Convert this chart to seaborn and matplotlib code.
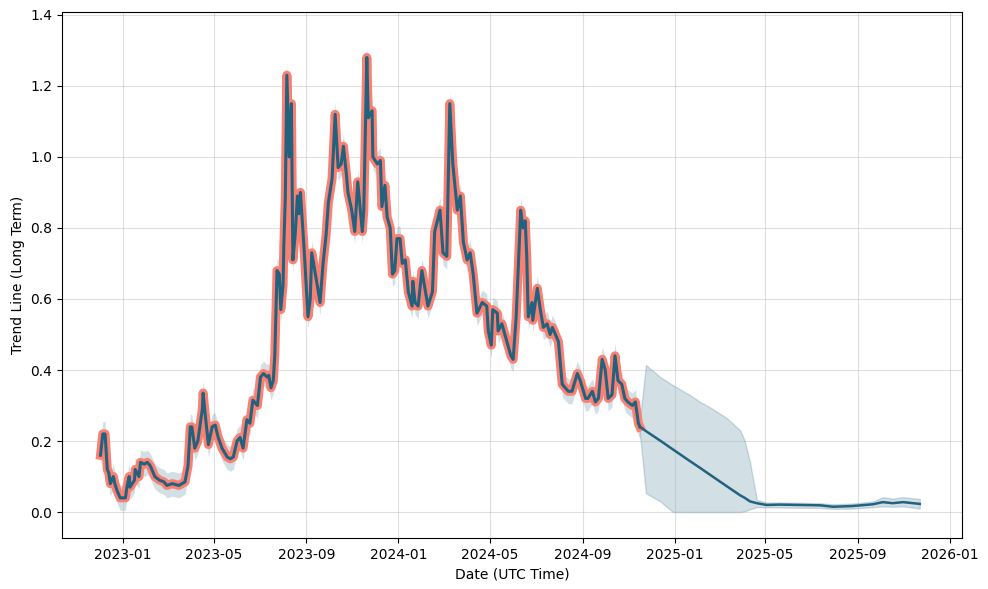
import numpy as np
import pandas as pd
import matplotlib
matplotlib.use("Agg")
import matplotlib.pyplot as plt
import matplotlib.dates as mdates
import seaborn as sns

BASE_DATE = "2023-01-01"

# historical trend: day offsets from BASE_DATE and values
hist_days = [-30, -27, -24, -21, -19, -17, -13, -11, -8, -4, 3, 5, 8, 9, 15, 16, 21, 23, 28, 32,
             36, 38, 42, 48, 54, 58, 65, 74, 82, 86, 89, 91, 95, 99, 105, 106, 109, 113, 118, 122,
             126, 131, 138, 142, 146, 151, 155, 159, 164, 168, 172, 178, 182, 186, 191, 193, 196, 199, 201, 204,
             207, 209, 212, 213, 215, 217, 220, 223, 225, 228, 231, 233, 235, 239, 241, 245, 248, 250, 254, 258,
             261, 265, 269, 272, 277, 281, 285, 289, 292, 296, 298, 303, 307, 311, 317, 319, 323, 325, 330, 331,
             337, 341, 343, 347, 350, 354, 357, 360, 363, 367, 370, 374, 378, 383, 384, 387, 391, 396, 400, 404,
             410, 413, 420, 424, 429, 433, 437, 443, 447, 451, 456, 460, 464, 469, 476, 482, 484, 488, 490, 496,
             497, 502, 506, 510, 514, 517, 521, 523, 527, 530, 533, 535, 537, 542, 543, 549, 553, 557, 562, 566,
             569, 573, 577, 582, 586, 590, 595, 602, 606, 613, 616, 622, 626, 630, 635, 639, 643, 648, 652, 656,
             661, 665, 669, 675, 679, 683, 685]
hist_vals = [0.16, 0.22, 0.22, 0.12, 0.11, 0.08, 0.10, 0.08, 0.06, 0.04, 0.04, 0.07, 0.10, 0.07, 0.09, 0.12, 0.10, 0.14, 0.135, 0.14,
             0.13, 0.12, 0.10, 0.09, 0.085, 0.075, 0.08, 0.075, 0.085, 0.13, 0.24, 0.24, 0.18, 0.20, 0.29, 0.335, 0.27, 0.19, 0.24, 0.245,
             0.21, 0.18, 0.155, 0.15, 0.155, 0.20, 0.21, 0.18, 0.26, 0.25, 0.315, 0.30, 0.38, 0.39, 0.38, 0.385, 0.35, 0.37, 0.44, 0.68,
             0.67, 0.57, 0.64, 0.75, 0.89, 1.23, 1.00, 1.15, 0.71, 0.78, 0.89, 0.84, 0.90, 0.77, 0.70, 0.55, 0.60, 0.73, 0.68, 0.63,
             0.59, 0.70, 0.78, 0.87, 0.94, 1.12, 0.97, 0.98, 1.03, 0.95, 0.90, 0.85, 0.79, 0.93, 0.79, 0.85, 1.28, 1.11, 1.13, 1.00,
             0.98, 0.99, 0.86, 0.92, 0.83, 0.80, 0.67, 0.68, 0.77, 0.77, 0.70, 0.71, 0.62, 0.58, 0.65, 0.59, 0.58, 0.68, 0.63, 0.58,
             0.62, 0.79, 0.85, 0.73, 0.72, 1.15, 0.98, 0.85, 0.89, 0.76, 0.71, 0.73, 0.67, 0.56, 0.59, 0.58, 0.51, 0.47, 0.57, 0.56,
             0.51, 0.53, 0.50, 0.47, 0.44, 0.43, 0.55, 0.65, 0.85, 0.80, 0.82, 0.72, 0.55, 0.59, 0.54, 0.63, 0.57, 0.52, 0.53, 0.50,
             0.52, 0.50, 0.48, 0.36, 0.35, 0.34, 0.34, 0.39, 0.37, 0.32, 0.32, 0.34, 0.31, 0.32, 0.43, 0.40, 0.32, 0.33, 0.44, 0.37,
             0.36, 0.32, 0.31, 0.30, 0.31, 0.25, 0.24]
HIST_BAND = 0.035

# forecast: day offsets, trend, lower/upper bounds
fc_days = [685, 693, 712, 729, 751, 765, 778, 800, 818, 824, 831, 840, 853, 871, 897, 924, 941, 967, 994, 1007, 1020, 1034, 1056]
fc_yhat = [0.24, 0.228, 0.201, 0.176, 0.144, 0.124, 0.105, 0.073, 0.047, 0.040, 0.030, 0.025, 0.020, 0.021, 0.020, 0.019, 0.015, 0.017, 0.022, 0.028, 0.025, 0.028, 0.023]
fc_upper = [0.26, 0.414, 0.38, 0.357, 0.33, 0.31, 0.295, 0.265, 0.23, 0.20, 0.14, 0.034, 0.027, 0.027, 0.026, 0.025, 0.022, 0.024, 0.030, 0.042, 0.038, 0.042, 0.037]
fc_lower = [0.22, 0.053, 0.03, 0.0, 0.0, 0.0, 0.0, 0.0, 0.0, 0.002, 0.008, 0.014, 0.013, 0.013, 0.012, 0.012, 0.009, 0.010, 0.014, 0.016, 0.015, 0.016, 0.010]

# axis ranges (day offsets / values)
X_RANGE_DAYS = (-81, 1112)
Y_RANGE = (-0.073, 1.408)

base = pd.Timestamp(BASE_DATE)
hist = pd.DataFrame({"date": base + pd.to_timedelta(hist_days, unit="D"), "value": hist_vals})
fc = pd.DataFrame({"date": base + pd.to_timedelta(fc_days, unit="D"), "yhat": fc_yhat,
                   "lower": fc_lower, "upper": fc_upper})

BLUE = "#22627f"
SALMON = "#fa8072"

fig, ax = plt.subplots(figsize=(9.88, 5.89), dpi=100)
fig.subplots_adjust(left=0.0628, right=0.9737, top=0.9796, bottom=0.0866)

ax.fill_between(hist["date"], hist["value"] - HIST_BAND, hist["value"] + HIST_BAND,
                color=BLUE, alpha=0.2, linewidth=0)
ax.fill_between(fc["date"], fc["lower"], fc["upper"], color=BLUE, alpha=0.2, linewidth=1)
sns.lineplot(data=hist, x="date", y="value", ax=ax, color=SALMON, linewidth=6.5)
sns.lineplot(data=hist, x="date", y="value", ax=ax, color=BLUE, linewidth=2.2)
sns.lineplot(data=fc, x="date", y="yhat", ax=ax, color=BLUE, linewidth=1.8)

ax.set_xlim(base + pd.Timedelta(days=X_RANGE_DAYS[0]), base + pd.Timedelta(days=X_RANGE_DAYS[1]))
ax.set_ylim(*Y_RANGE)
ax.xaxis.set_major_locator(mdates.MonthLocator(bymonth=[1, 5, 9]))
ax.xaxis.set_major_formatter(mdates.DateFormatter("%Y-%m"))
ax.grid(True, color="#b0b0b0", alpha=0.4, linewidth=0.8)
ax.set_xlabel("Date (UTC Time)")
ax.set_ylabel("Trend Line (Long Term)")

fig.savefig("out.png", dpi=100)
